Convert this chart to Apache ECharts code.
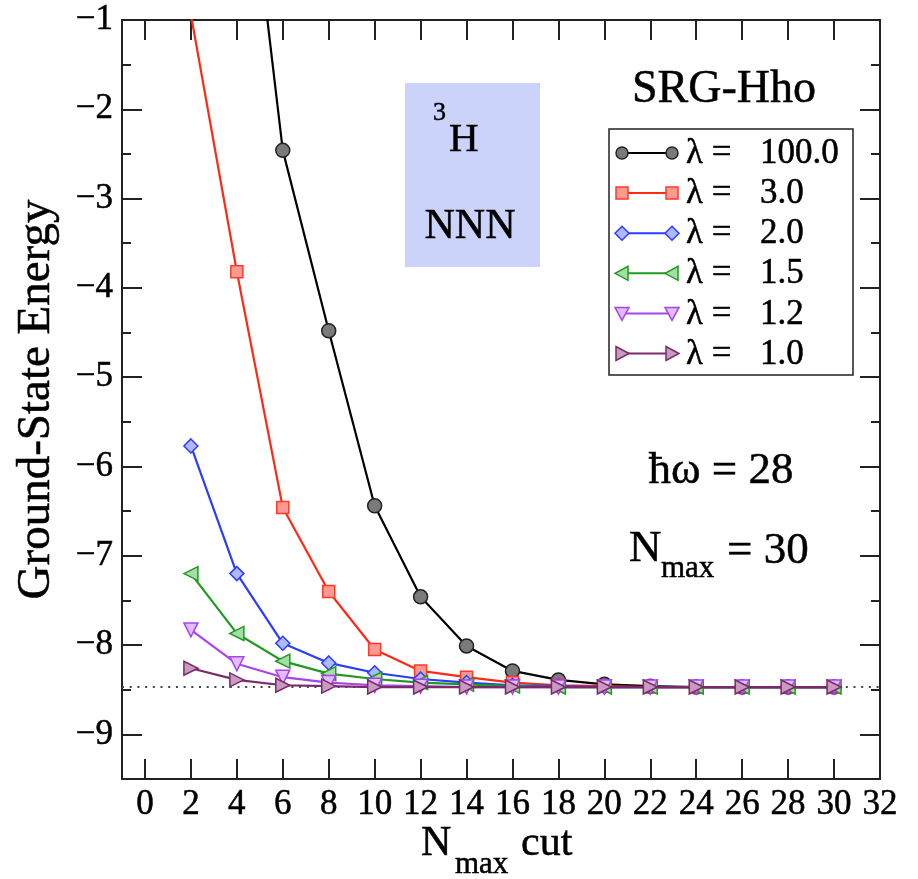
<!DOCTYPE html>
<html><head><meta charset="utf-8">
<script src="https://cdn.jsdelivr.net/npm/echarts@6/dist/echarts.min.js"></script>
<style>html,body{margin:0;padding:0;background:#fff}#c{width:918px;height:879px}</style>
</head><body><div id="c"></div>
<script>
// ---- data ----
const nmaxCut   = [2, 4, 6, 8, 10, 12, 14, 16, 18, 20, 22, 24, 26, 28, 30];
const lambda100 = [null, 1.9, -2.46, -4.48, -6.44, -7.46, -8.01, -8.29, -8.39, -8.44, -8.46, -8.47, -8.47, -8.47, -8.47];
const lambda3_0 = [-0.94, -3.82, -6.46, -7.40, -8.05, -8.29, -8.36, -8.42, -8.45, -8.46, -8.47, -8.47, -8.47, -8.47, -8.47];
const lambda2_0 = [-5.77, -7.20, -7.98, -8.20, -8.31, -8.38, -8.42, -8.45, -8.46, -8.47, -8.47, -8.47, -8.47, -8.47, -8.47];
const lambda1_5 = [-7.20, -7.87, -8.18, -8.32, -8.38, -8.42, -8.44, -8.46, -8.47, -8.47, -8.47, -8.47, -8.47, -8.47, -8.47];
const lambda1_2 = [-7.83, -8.21, -8.36, -8.42, -8.45, -8.46, -8.47, -8.47, -8.47, -8.47, -8.47, -8.47, -8.47, -8.47, -8.47];
const lambda1_0 = [-8.26, -8.39, -8.45, -8.46, -8.47, -8.47, -8.47, -8.47, -8.47, -8.47, -8.47, -8.47, -8.47, -8.47, -8.47];
const exactEnergy = -8.47;
const lambdaLabels = ['100.0', '3.0', '2.0', '1.5', '1.2', '1.0'];
const xTickValues = [0, 2, 4, 6, 8, 10, 12, 14, 16, 18, 20, 22, 24, 26, 28, 30, 32];
const yTickValues = [-9, -8, -7, -6, -5, -4, -3, -2, -1];
const yMinorTickValues = [-8.5, -7.5, -6.5, -5.5, -4.5, -3.5, -2.5, -1.5];

// ---- styles ----
const FONT = '"Liberation Serif", "Times New Roman", serif';
const AX = '#222';
const TB = 0.5; // slight text stroke to mimic the heavier reference rendering
const styles = [
  {line: '#000000', fill: '#7a7a7a', stroke: '#222222', symbol: 'circle',   size: 14, rot: 0},
  {line: '#ff2a14', fill: '#ff9a90', stroke: '#ff3a2a', symbol: 'rect',     size: 12, rot: 0},
  {line: '#2a3cff', fill: '#b0b8ff', stroke: '#2a3cff', symbol: 'diamond',  size: 14, rot: 0},
  {line: '#1f9a1f', fill: '#a6dca6', stroke: '#1f9a1f', symbol: 'triangle', size: 14, rot: 90},
  {line: '#a845ea', fill: '#e2bcff', stroke: '#a845ea', symbol: 'triangle', size: 14, rot: 180},
  {line: '#7a2a6c', fill: '#c99ac0', stroke: '#7a2a6c', symbol: 'triangle', size: 14, rot: -90}
];
const seriesValues = [lambda100, lambda3_0, lambda2_0, lambda1_5, lambda1_2, lambda1_0];

const pair = (xs, ys) => xs.map((x, i) => [x, ys[i]]);
const minus = v => (v < 0 ? '\u2212' : '') + Math.abs(v);

const XMIN = -1, XMAX = 32, YMIN = -9.5, YMAX = -1;
const baseAxisX = {
  type: 'value', min: XMIN, max: XMAX, offset: 0, splitLine: {show: false},
  axisLine: {show: true, onZero: false, lineStyle: {color: AX, width: 2}},
  axisTick: {show: true, inside: true, length: 20, customValues: xTickValues, lineStyle: {color: AX, width: 2}},
  axisLabel: {show: false}
};
const baseAxisY = {
  type: 'value', min: YMIN, max: YMAX, offset: 0, splitLine: {show: false},
  axisLine: {show: true, onZero: false, lineStyle: {color: AX, width: 2}},
  axisTick: {show: true, inside: true, length: 20, customValues: yTickValues, lineStyle: {color: AX, width: 2}},
  axisLabel: {show: false}
};
const labelStyle = {color: '#000', fontFamily: FONT, fontSize: 35, textBorderColor: '#000', textBorderWidth: TB};

const xAxes = [
  Object.assign({}, baseAxisX, {
    position: 'bottom',
    axisLabel: Object.assign({show: true, customValues: xTickValues, margin: 8, formatter: v => String(v)}, labelStyle)
  }),
  Object.assign({}, baseAxisX, {position: 'top'})
];
const minorTick = {show: true, inside: true, length: 9, customValues: yMinorTickValues, lineStyle: {color: AX, width: 2}};
const yAxes = [
  Object.assign({}, baseAxisY, {
    position: 'left',
    axisLabel: Object.assign({show: true, customValues: yTickValues, margin: 9, formatter: minus}, labelStyle),
    name: 'Ground-State Energy', nameLocation: 'middle', nameGap: 62, nameRotate: 90,
    nameTextStyle: {fontFamily: FONT, fontSize: 47, color: '#000', textBorderColor: '#000', textBorderWidth: TB}
  }),
  Object.assign({}, baseAxisY, {position: 'right'}),
  Object.assign({}, baseAxisY, {position: 'left', axisLine: {show: false, onZero: false}, axisTick: minorTick}),
  Object.assign({}, baseAxisY, {position: 'right', axisLine: {show: false, onZero: false}, axisTick: minorTick})
];

const series = [{
  type: 'line', name: 'exact', data: [[XMIN, exactEnergy], [XMAX, exactEnergy]],
  symbol: 'none', silent: true, z: 1,
  lineStyle: {color: '#444', width: 2, type: [2, 5.7]}
}];
seriesValues.forEach((vals, i) => {
  const s = styles[i];
  series.push({
    type: 'line', name: '\u03bb = ' + lambdaLabels[i], data: pair(nmaxCut, vals),
    symbol: s.symbol, symbolSize: s.size, symbolRotate: s.rot, showAllSymbol: true,
    clip: true, connectNulls: false, z: 2 + i,
    lineStyle: {color: s.line, width: 2.2},
    itemStyle: {color: s.fill, borderColor: s.stroke, borderWidth: 1.5}
  });
});

// ---- annotations & legend (graphic) ----
const g = [];
function txt(text, x, y, size, align, z) {
  return {type: 'text', z: z || 10, style: {text, x, y, fontFamily: FONT, fontSize: size, fill: '#000',
    stroke: '#000', lineWidth: TB, textAlign: align || 'left', verticalAlign: 'middle'}};
}
g.push({type: 'rect', shape: {x: 405, y: 83, width: 135, height: 184}, style: {fill: '#ccd3fb'}, z: 0});
g.push(txt('3', 433, 113, 26));
g.push(txt('H', 449, 140, 41));
g.push(txt('NNN', 470, 227, 42, 'center'));
g.push(txt('SRG-Hho', 724, 90, 46, 'center'));
g.push({type: 'rect', shape: {x: 609, y: 129, width: 244, height: 246}, style: {fill: '#fff', stroke: '#222', lineWidth: 1.5}, z: 50});
function legendSymbol(kind, cx, cy, s) {
  const st = {fill: s.fill, stroke: s.stroke, lineWidth: 1.5};
  if (kind === 0) return {type: 'circle', shape: {cx, cy, r: 6}, style: st, z: 52};
  if (kind === 1) return {type: 'rect', shape: {x: cx - 6, y: cy - 6, width: 12, height: 12}, style: st, z: 52};
  let pts;
  if (kind === 2) pts = [[cx, cy - 7], [cx + 7, cy], [cx, cy + 7], [cx - 7, cy]];
  if (kind === 3) pts = [[cx - 7, cy], [cx + 6, cy - 7], [cx + 6, cy + 7]];
  if (kind === 4) pts = [[cx - 7, cy - 6], [cx + 7, cy - 6], [cx, cy + 7]];
  if (kind === 5) pts = [[cx + 7, cy], [cx - 6, cy - 7], [cx - 6, cy + 7]];
  return {type: 'polygon', shape: {points: pts}, style: st, z: 52};
}
lambdaLabels.forEach((lab, i) => {
  const cy = 153 + i * 40.1;
  const s = styles[i];
  g.push({type: 'line', shape: {x1: 622, y1: cy, x2: 672, y2: cy}, style: {stroke: s.line, lineWidth: 2}, z: 51});
  g.push(legendSymbol(i, 622, cy, s));
  g.push(legendSymbol(i, 672, cy, s));
  g.push(txt('\u03bb =', 686, cy + 1, 35, 'left', 52));
  g.push(txt(lab, 760, cy + 1, 35, 'left', 52));
});
g.push(txt('\u0127\u03c9 = 28', 721, 471, 45, 'center'));
g.push(txt('N', 629, 549, 45));
g.push(txt('max', 661, 569, 31));
g.push(txt('= 30', 727, 551, 45));
g.push(txt('N', 421, 844, 42));
g.push(txt('max', 455, 865, 31));
g.push(txt('cut', 521, 844, 42));

const chart = echarts.init(document.getElementById('c'), null, {renderer: 'canvas'});
chart.setOption({
  animation: false,
  backgroundColor: '#fff',
  grid: {left: 122, right: 38, top: 20, bottom: 100, containLabel: false, outerBoundsMode: 'none'},
  xAxis: xAxes,
  yAxis: yAxes,
  series: series,
  graphic: g
});
</script></body></html>
